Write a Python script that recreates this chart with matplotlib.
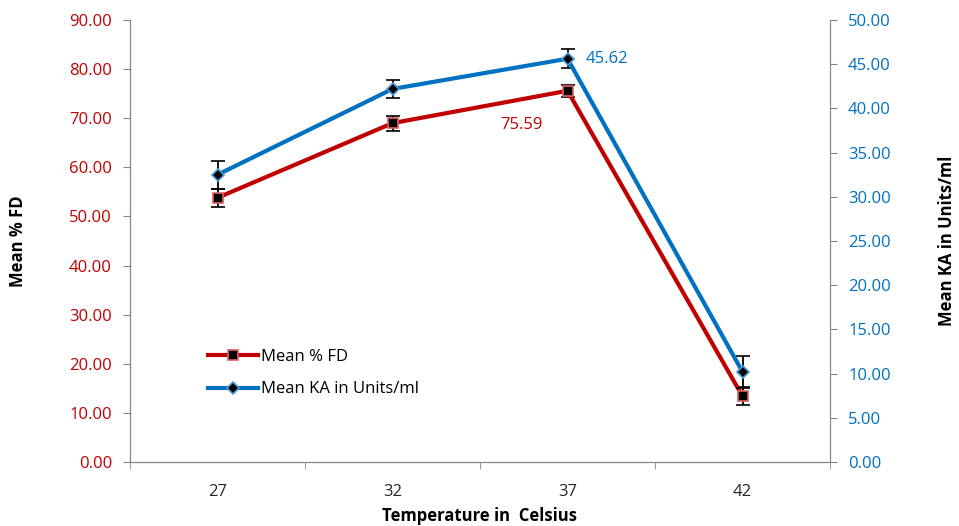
import numpy as np
import matplotlib.pyplot as plt
from matplotlib.lines import Line2D
from matplotlib.ticker import FormatStrFormatter, FixedLocator

temps = ["27", "32", "37", "42"]
fd_mean = [53.8, 69.0, 75.59, 13.4]
fd_err = [1.8, 1.5, 1.2, 1.8]
ka_mean = [32.5, 42.2, 45.62, 10.2]
ka_err = [1.6, 1.0, 1.1, 1.8]

RED = "#C00000"
BLUE = "#0070C0"
GREY = "#868686"

plt.rcParams['font.family'] = ['Open Sans', 'DejaVu Sans']

fig = plt.figure(figsize=(9.59, 5.26), dpi=100)
ax = fig.add_axes([130 / 959, 64 / 526, 700 / 959, 442 / 526])
ax2 = ax.twinx()

x = np.arange(1, len(temps) + 1)

fd_style = dict(color=RED, lw=3, marker="s", ms=7, mfc="black", mec="#E06060", mew=1.2)
ka_style = dict(color=BLUE, lw=3, marker="D", ms=6, mfc="black", mec="#4A9AD8", mew=1.2)

ax.errorbar(x, fd_mean, yerr=fd_err, ecolor="black", elinewidth=1.3,
            capsize=5, capthick=1.3, zorder=3, **fd_style)
ax2.errorbar(x, ka_mean, yerr=ka_err, ecolor="black", elinewidth=1.3,
             capsize=5, capthick=1.3, zorder=3, **ka_style)

ax.set_xlim(0.5, 4.5)
ax.set_ylim(0, 90)
ax2.set_ylim(0, 50)
ax.set_yticks(np.arange(0, 91, 10))
ax2.set_yticks(np.arange(0, 51, 5))
ax.yaxis.set_major_formatter(FormatStrFormatter("%.2f"))
ax2.yaxis.set_major_formatter(FormatStrFormatter("%.2f"))

ax.set_xticks(x)
ax.set_xticklabels(temps)
ax.xaxis.set_minor_locator(FixedLocator(np.arange(0.5, 4.6, 1)))
ax.tick_params(axis="x", which="major", length=0, pad=16, labelsize=12, labelcolor="#262626")
ax.tick_params(axis="x", which="minor", length=5, color=GREY)
ax.tick_params(axis="y", length=5, color=GREY, labelcolor=RED, labelsize=12, pad=8)
ax2.tick_params(axis="y", length=5, color=GREY, labelcolor=BLUE, labelsize=12, pad=8)

for a in (ax, ax2):
    a.spines["top"].set_visible(False)
    for s in ("left", "right", "bottom"):
        a.spines[s].set_color(GREY)

ax.set_xlabel("Temperature in  Celsius", fontsize=12, fontweight="bold", labelpad=5)
ax.set_ylabel("Mean % FD", fontsize=12, fontweight="bold", labelpad=30)
ax2.set_ylabel("Mean KA in Units/ml", fontsize=12, fontweight="bold", labelpad=34)

ax.annotate(f"{fd_mean[2]:.2f}", (x[2], fd_mean[2]), xytext=(-67, -34),
            textcoords="offset pixels", color=RED, fontsize=12, ha="left", va="center")
ax2.annotate(f"{ka_mean[2]:.2f}", (x[2], ka_mean[2]), xytext=(18, 0),
             textcoords="offset pixels", color=BLUE, fontsize=12, ha="left", va="center")

handles = [Line2D([], [], **fd_style), Line2D([], [], **ka_style)]
ax.legend(handles, ["Mean % FD", "Mean KA in Units/ml"], loc="upper left",
          bbox_to_anchor=(0.09, 0.29), frameon=False, fontsize=12,
          handlelength=3, labelspacing=1.0, handletextpad=0.2)

fig.savefig("out.png", dpi=100)
